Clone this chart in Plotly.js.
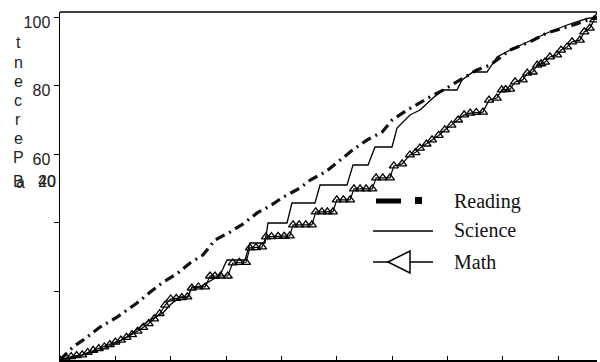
<!DOCTYPE html>
<html>
<head>
<meta charset="utf-8">
<script src="https://cdn.plot.ly/plotly-3.0.1.min.js"></script>
<style>html,body{margin:0;padding:0;background:#fff;}#chart{width:600px;height:362px;}</style>
</head>
<body>
<div id="chart"></div>
<script>
// Reading (cumulative percent)
const readingX = [0,2.35,4.15,7.23,10.3,13.9,16.3,18.6,21.1,23.5,25.8,28.0,30.7,33.1,35.6,37.9,40.3,43.4,45.2,47.9,50.6,52.9,55.5,58.2,60.0,62.7,66.8,69.2,72.3,75.3,77.7,81.3,84.9,88.0,91.6,95.2,97];
const readingY = [0,3.8,5.8,9.6,12.5,16.6,19.8,22.7,25.1,28.3,30.6,35.0,37.3,39.7,42.9,44.9,47.5,50.2,52.5,54.8,58.3,61.3,64.2,66.5,70.0,72.9,76.7,78.7,81.7,84.6,86.0,90.4,92.8,95.4,97.1,99.2,100];

// Science
const scienceX = [0,4.15,7.23,10.3,12.64,14.45,16.26,18.6,19.87,21.68,23.12,23.84,25.29,26.55,28.9,30.17,33.42,34.32,37.03,37.57,41.0,41.9,46.06,46.97,51.84,52.93,55.64,56.9,59.97,60.87,63.22,65.03,67.37,69.18,71.71,72.62,74.6,77.13,78.94,81.29,84.36,87.97,91.58,95.2,97];
const scienceY = [0,1.46,2.92,4.96,7.29,9.63,11.67,13.71,16.04,18.38,18.38,21.29,21.29,22.46,24.79,29.17,29.17,34.13,34.13,39.96,39.96,45.79,45.79,51.04,51.04,56.88,56.88,62.13,62.13,67.67,71.46,72.92,76.42,78.75,78.75,81.67,84.0,84.0,88.38,90.42,92.75,95.38,97.71,99.6,100];

// Math
const mathX = [0,1,2,3,4,5,6,7,8,9,10,11,12,13,14,15,16,17,18,19,20,21,22,23,23.8,25,26.2,27.1,28,29,30.3,31.2,32.4,33.6,34.3,35.4,36.5,37.2,38.2,39.4,40.5,41.5,42.1,43.2,44.4,45.5,46.2,47.3,48.3,49.3,50,51.2,52.4,53.1,54.2,55.3,56.4,57.1,58.3,59.6,60.3,61.8,63.2,64.2,65,66.2,67.2,68.4,69.5,70.7,71.9,73,74.1,75.2,76.4,77.5,78.9,79.8,80.5,81.3,82.2,83.6,84.4,85.4,86.2,86.9,87.6,88.5,89.8,90.5,91.6,92.5,93.9,94.7,95.7,96.5,97];
const mathY = [0,0.6,1,1.3,1.5,2.2,2.8,3.3,3.8,4.5,5.2,5.8,6.6,7.4,8.4,9.5,10.6,12,13.5,16,17.8,18,18.2,18.4,21,21.3,21.3,24.5,24.5,24.5,24.5,28.3,28.5,28.5,32.7,32.8,33,35.9,36,36.1,36.1,36.2,39.4,39.4,39.4,39.4,43.2,43.2,43.2,43.2,46.7,46.7,46.7,49.9,49.9,49.9,49.9,53.1,53.1,53.1,56.6,57.2,59.8,60.5,61.8,63,64.2,65.5,67.1,68.5,70,71.5,72,72.2,72.3,75.8,76.4,78.8,78.9,79,81.1,81.7,83.7,84,86,86.4,86.9,88.4,89,90.4,91.3,92.8,93.3,95.7,96.8,99.2,100];

const yTickVals = [100,80,60,40,20];
const yTickText = ['100','80','60','',''];
const xTickVals = [0,10,20,30,40,50,60,70,80,90];
const titleLetters = ['t','n','e','c','r','e','P'];
const legendNames = ['Reading','Science','Math'];

const traces = [
  {x: readingX, y: readingY, mode:'lines', name:'Reading',
   line:{color:'#111', width:3.2, dash:'10px,5px,2px,5px'}, showlegend:false},
  {x: scienceX, y: scienceY, mode:'lines', name:'Science',
   line:{color:'#000', width:1.3}, showlegend:false},
  {x: mathX, y: mathY, mode:'lines+markers', name:'Math',
   line:{color:'#000', width:1.2},
   marker:{symbol:'triangle-up-open', size:8, color:'#000', line:{width:1.3, color:'#000'}},
   showlegend:false}
];

// helpers to place decorations by pixel within the page
const L = 60, T = 12, W = 537, H = 348;
const px = v => (v - L) / W;
const py = v => (T + H - v) / H;

const annotations = [];
titleLetters.forEach((ch, i) => {
  annotations.push({xref:'paper', yref:'paper', x:px(18), y:py(43 + i*19), text:ch,
    showarrow:false, xanchor:'center', yanchor:'middle',
    font:{family:'Liberation Sans, Arial, sans-serif', size:16, color:'#222'}});
});
// overlapped glyphs below the title and the overlapped 40/20 labels
annotations.push({xref:'paper', yref:'paper', x:px(18), y:py(181), text:'B', showarrow:false,
  xanchor:'center', yanchor:'middle', font:{family:'Liberation Sans, Arial, sans-serif', size:16, color:'#222'}});
annotations.push({xref:'paper', yref:'paper', x:px(21), y:py(182), text:'a', showarrow:false,
  xanchor:'center', yanchor:'middle', font:{family:'Liberation Sans, Arial, sans-serif', size:16, color:'#222'}});
['40','20'].forEach(t => {
  annotations.push({xref:'paper', yref:'paper', x:px(58), y:py(181), text:t, showarrow:false,
    xanchor:'right', yanchor:'middle', font:{family:'Liberation Sans, Arial, sans-serif', size:16, color:'#222'}});
});
// legend text
[201, 230, 262].forEach((yy, i) => {
  annotations.push({xref:'paper', yref:'paper', x:px(452), y:py(yy), text:legendNames[i], showarrow:false,
    xanchor:'left', yanchor:'middle', font:{family:'Liberation Serif, Times New Roman, serif', size:20, color:'#111'}});
});

const shapes = [
  // top frame line
  {type:'line', xref:'paper', yref:'paper', x0:0, x1:1, y0:1, y1:1, line:{color:'#000', width:1.5}},
  // legend: Reading
  {type:'line', xref:'paper', yref:'paper', x0:px(376), x1:px(401), y0:py(201), y1:py(201), line:{color:'#000', width:5}},
  {type:'rect', xref:'paper', yref:'paper', x0:px(415), x1:px(422), y0:py(204), y1:py(197), fillcolor:'#000', line:{width:0}},
  // legend: Science
  {type:'line', xref:'paper', yref:'paper', x0:px(373), x1:px(433), y0:py(231), y1:py(231), line:{color:'#000', width:1.5}},
  // legend: Math
  {type:'line', xref:'paper', yref:'paper', x0:px(373), x1:px(433), y0:py(262), y1:py(262), line:{color:'#000', width:1.5}},
  {type:'path', xref:'paper', yref:'paper',
   path:`M ${px(388)} ${py(262)} L ${px(410)} ${py(251)} L ${px(410)} ${py(273)} Z`,
   fillcolor:'#fff', line:{color:'#000', width:1.5}}
];

const layout = {
  width:600, height:362,
  margin:{l:L, r:600-L-W, t:T, b:362-T-H, pad:0},
  paper_bgcolor:'#fff', plot_bgcolor:'#fff',
  showlegend:false,
  xaxis:{range:[0,97], showgrid:false, zeroline:false, showline:true, linecolor:'#000', linewidth:2,
    tickmode:'array', tickvals:xTickVals, ticks:'inside', ticklen:4, tickcolor:'#000', showticklabels:false},
  yaxis:{range:[0,101.5], showgrid:false, zeroline:false, showline:true, linecolor:'#000', linewidth:1.5,
    tickmode:'array', tickvals:yTickVals, ticktext:yTickText, ticks:'outside', ticklen:5, tickcolor:'#000',
    ticklabelshift:5,
    tickfont:{family:'Liberation Sans, Arial, sans-serif', size:16, color:'#222'}},
  annotations, shapes
};

Plotly.newPlot('chart', traces, layout, {displayModeBar:false, staticPlot:true});
</script>
</body>
</html>
